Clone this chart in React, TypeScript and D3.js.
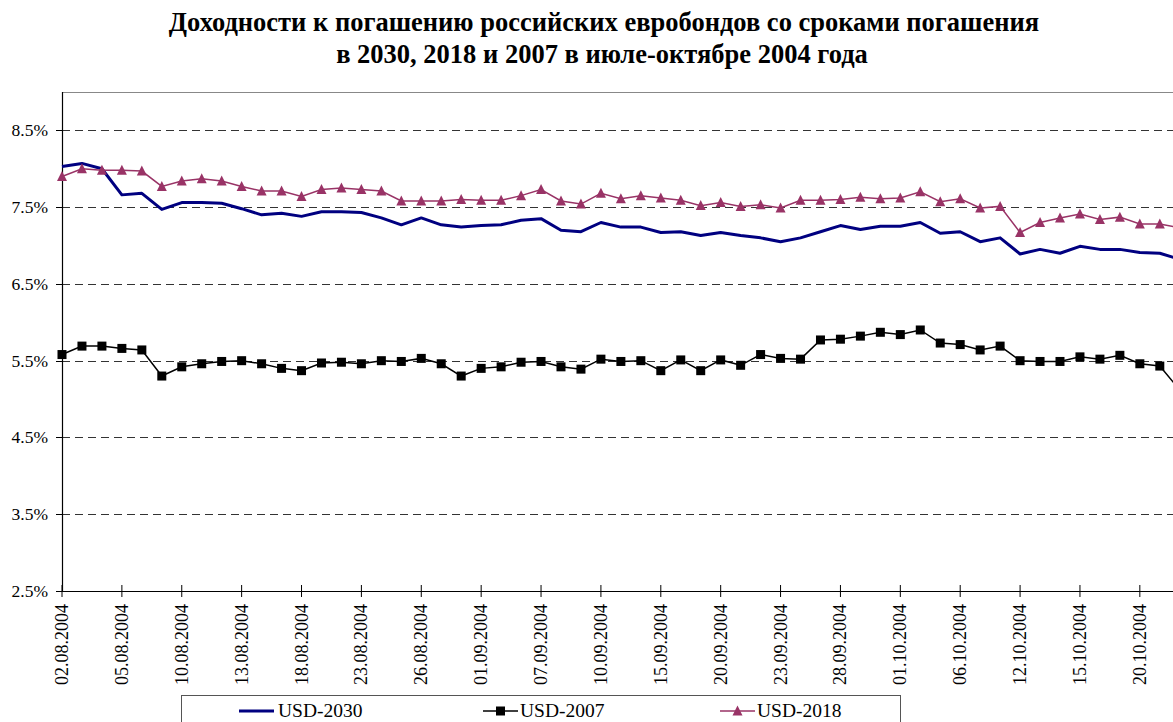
import React from "react";
import * as d3 from "d3";

const dates: string[] = [
  "02.08.2004", "03.08.2004", "04.08.2004", "05.08.2004", "06.08.2004", "09.08.2004",
  "10.08.2004", "11.08.2004", "12.08.2004", "13.08.2004", "16.08.2004", "17.08.2004",
  "18.08.2004", "19.08.2004", "20.08.2004", "23.08.2004", "24.08.2004", "25.08.2004",
  "26.08.2004", "27.08.2004", "30.08.2004", "01.09.2004", "02.09.2004", "06.09.2004",
  "07.09.2004", "08.09.2004", "09.09.2004", "10.09.2004", "13.09.2004", "14.09.2004",
  "15.09.2004", "16.09.2004", "17.09.2004", "20.09.2004", "21.09.2004", "22.09.2004",
  "23.09.2004", "24.09.2004", "27.09.2004", "28.09.2004", "29.09.2004", "30.09.2004",
  "01.10.2004", "04.10.2004", "05.10.2004", "06.10.2004", "07.10.2004", "08.10.2004",
  "12.10.2004", "13.10.2004", "14.10.2004", "15.10.2004", "18.10.2004", "19.10.2004",
  "20.10.2004", "21.10.2004", "22.10.2004",
];

const usd2030: number[] = [
  8.03, 8.07, 8.0, 7.66, 7.68, 7.47, 7.56, 7.56, 7.55, 7.48, 7.4, 7.42,
  7.38, 7.44, 7.44, 7.43, 7.36, 7.27, 7.36, 7.27, 7.24, 7.26, 7.27, 7.33,
  7.35, 7.2, 7.18, 7.3, 7.24, 7.24, 7.17, 7.18, 7.13, 7.17, 7.13, 7.1,
  7.05, 7.1, 7.18, 7.26, 7.21, 7.25, 7.25, 7.3, 7.16, 7.18, 7.05, 7.1,
  6.89, 6.95, 6.9, 6.99, 6.95, 6.95, 6.91, 6.9, 6.82,
];

const usd2007: number[] = [
  5.58, 5.69, 5.69, 5.66, 5.64, 5.3, 5.42, 5.46, 5.49, 5.5, 5.46, 5.4,
  5.37, 5.47, 5.48, 5.46, 5.5, 5.49, 5.53, 5.46, 5.3, 5.4, 5.42, 5.48,
  5.49, 5.42, 5.39, 5.52, 5.49, 5.5, 5.37, 5.51, 5.37, 5.51, 5.44, 5.58,
  5.53, 5.52, 5.77, 5.78, 5.82, 5.87, 5.84, 5.9, 5.73, 5.71, 5.64, 5.69,
  5.5, 5.49, 5.49, 5.55, 5.52, 5.57, 5.46, 5.43, 5.12,
];

const usd2018: number[] = [
  7.9, 8.0, 7.98, 7.98, 7.97, 7.77, 7.84, 7.87, 7.84, 7.77, 7.71, 7.71,
  7.64, 7.73, 7.75, 7.73, 7.71, 7.58, 7.58, 7.58, 7.6, 7.59, 7.59, 7.65,
  7.73, 7.58, 7.54, 7.68, 7.61, 7.65, 7.62, 7.59, 7.52, 7.56, 7.51, 7.53,
  7.49, 7.59, 7.59, 7.6, 7.63, 7.61, 7.62, 7.7, 7.57, 7.61, 7.49, 7.51,
  7.17, 7.3, 7.36, 7.41, 7.34, 7.37, 7.28, 7.28, 7.23,
];

const yTicks: number[] = [2.5, 3.5, 4.5, 5.5, 6.5, 7.5, 8.5];
const seriesNames: string[] = ["USD-2030", "USD-2007", "USD-2018"];
const titleLines: string[] = [
  "Доходности к погашению российских евробондов со сроками погашения",
  "в 2030, 2018 и 2007 в июле-октябре 2004 года",
];

const FONT = "Liberation Serif";
const W = 1173;
const H = 722;
const left = 62;
const top = 92;
const bottom = 591;
const step = 19.96;

const txt = (size: number, bold = false): React.CSSProperties => ({
  fontFamily: FONT,
  fontSize: size + "px",
  fontWeight: bold ? 700 : 400,
});

export default function App() {
  const x = d3
    .scalePoint<string>()
    .domain(dates)
    .range([left, left + (dates.length - 1) * step]);
  const y = d3.scaleLinear().domain([2.5, 9.0]).range([bottom, top]);

  const line = d3
    .line<number>()
    .x((_, i) => x(dates[i]) as number)
    .y((d) => y(d));

  const tickIdx = dates.map((_, i) => i).filter((i) => i % 3 === 0);
  const rightEdge = left + (dates.length - 1) * step;

  const tri = (cx: number, cy: number, s: number) =>
    `M${cx},${cy - s * 0.55}L${cx + s / 2},${cy + s * 0.45}L${cx - s / 2},${cy + s * 0.45}Z`;

  return (
    <svg
      width={W}
      height={H}
      style={{ position: "absolute", left: 0, top: 0, background: "#fff" }}
    >
      <rect x={0} y={0} width={W} height={H} fill="#fff" />
      {/* title */}
      <text x={604} y={31} textAnchor="middle" style={txt(26.5, true)}>
        {titleLines[0]}
      </text>
      <text x={602} y={63} textAnchor="middle" style={txt(26.5, true)}>
        {titleLines[1]}
      </text>

      {/* grid */}
      {yTicks.slice(1).map((t) => (
        <line
          key={t}
          x1={left}
          x2={rightEdge}
          y1={Math.round(y(t)) + 0.5}
          y2={Math.round(y(t)) + 0.5}
          stroke="#333"
          strokeWidth={1}
          strokeDasharray="8,5"
        />
      ))}
      {/* top border */}
      <line x1={left} x2={rightEdge + 10} y1={top + 0.5} y2={top + 0.5} stroke="#888" strokeWidth={1} />

      {/* y axis */}
      <line x1={left + 0.5} x2={left + 0.5} y1={top} y2={bottom} stroke="#000" strokeWidth={1.2} />
      {yTicks.map((t) => (
        <g key={t}>
          <line x1={56} x2={left} y1={Math.round(y(t)) + 0.5} y2={Math.round(y(t)) + 0.5} stroke="#000" />
          <text x={48} y={y(t) + 6} textAnchor="end" style={txt(17.5)}>
            {t.toFixed(1) + "%"}
          </text>
        </g>
      ))}

      {/* x axis */}
      <line x1={left} x2={rightEdge + 10} y1={bottom + 0.5} y2={bottom + 0.5} stroke="#000" strokeWidth={1.2} />
      {tickIdx.map((i) => {
        const xx = x(dates[i]) as number;
        return (
          <g key={i}>
            <line x1={xx} x2={xx} y1={bottom - 6} y2={bottom + 6} stroke="#000" />
            <text
              transform={`translate(${xx + 6},${bottom + 13}) rotate(-90)`}
              textAnchor="end"
              style={txt(18)}
            >
              {dates[i]}
            </text>
          </g>
        );
      })}

      {/* series */}
      <path d={line(usd2030) || ""} fill="none" stroke="#000080" strokeWidth={3} strokeLinejoin="round" />
      <path d={line(usd2018) || ""} fill="none" stroke="#993366" strokeWidth={1.5} />
      {usd2018.map((v, i) => (
        <path key={"t" + i} d={tri(x(dates[i]) as number, y(v), 10)} fill="#993366" />
      ))}
      <path d={line(usd2007) || ""} fill="none" stroke="#000" strokeWidth={1.5} />
      {usd2007.map((v, i) => (
        <rect
          key={"s" + i}
          x={(x(dates[i]) as number) - 4.5}
          y={y(v) - 4.5}
          width={9}
          height={9}
          fill="#000"
        />
      ))}

      {/* legend */}
      <rect x={181.5} y={695.5} width={719} height={60} fill="#fff" stroke="#555" strokeWidth={1} />
      <line x1={239} x2={274} y1={711} y2={711} stroke="#000080" strokeWidth={3} />
      <text x={278} y={717} style={txt(19.5)}>{seriesNames[0]}</text>
      <line x1={483} x2={518} y1={711} y2={711} stroke="#000" strokeWidth={1.5} />
      <rect x={496} y={706.5} width={9} height={9} fill="#000" />
      <text x={520} y={717} style={txt(19.5)}>{seriesNames[1]}</text>
      <line x1={720} x2={755} y1={711} y2={711} stroke="#993366" strokeWidth={1.5} />
      <path d={tri(737.5, 711, 10)} fill="#993366" />
      <text x={757} y={717} style={txt(19.5)}>{seriesNames[2]}</text>
    </svg>
  );
}
